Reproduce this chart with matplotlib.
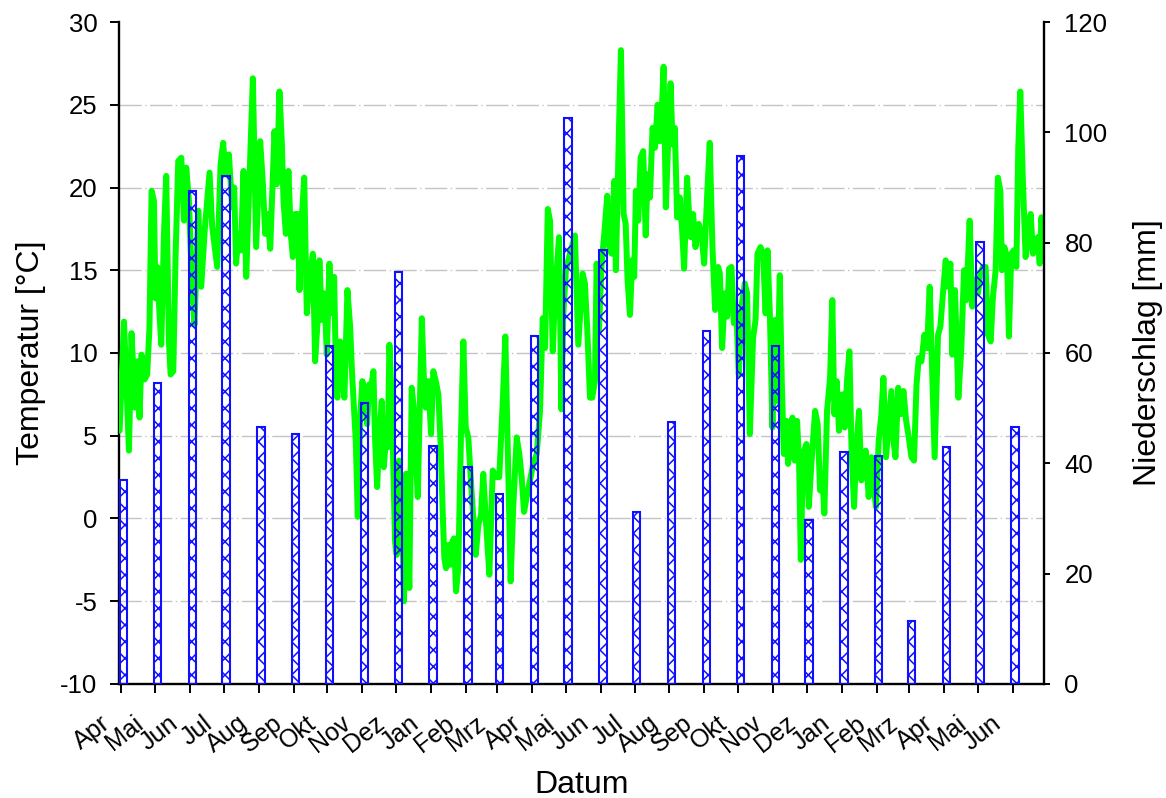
import numpy as np
import pandas as pd
import matplotlib
matplotlib.use("Agg")
import matplotlib.pyplot as plt
import matplotlib.transforms as mtransforms

plt.rcParams['font.family'] = ['Liberation Sans', 'DejaVu Sans']
plt.rcParams['axes.unicode_minus'] = False

# ---- data ----
start_date = "2010-04-01"
month_labels = ["Apr", "Mai", "Jun", "Jul", "Aug", "Sep", "Okt", "Nov", "Dez",
                "Jan", "Feb", "Mrz", "Apr", "Mai", "Jun", "Jul", "Aug", "Sep",
                "Okt", "Nov", "Dez", "Jan", "Feb", "Mrz", "Apr", "Mai", "Jun"]

# monthly precipitation [mm]
precip = [37, 54.6, 89.4, 92, 46.5, 45.3, 61.2, 51, 74.7, 43.2, 39.3, 34.5,
          63, 102.6, 78.6, 31.2, 47.4, 63.9, 95.7, 61.2, 29.7, 42, 41.4, 11.4,
          42.9, 80.1, 46.5]

# temperature series: days since start, temperature [°C]
temp_days = [
    -1.5, 2.4, 6.8, 9.1, 12.2, 14.2, 16.2, 18, 20.7, 23, 25, 26.9, 29, 30.4, 32, 33.5,
    35.5, 37.9, 39.9, 42.3, 43.8, 46.2, 48.2, 50.6, 53.3, 55.7, 57.7, 60.1, 63, 65,
    68.4, 71, 74.3, 78.4, 80.8, 85.2, 88.2, 90.5, 92.6, 95.6, 98.5, 100.3, 102, 104.1,
    106.3, 108.6, 111, 113.9, 116.9, 119.8, 123.4, 125.8, 127.8, 129.9, 132.3, 136.1,
    138.2, 140.5, 142.7, 144.1, 146.2, 148.5, 150.6, 152.4, 154.5, 156.9, 158.3, 160.4,
    162.5, 164.8, 167.8, 170.2, 172.2, 174.3, 176, 178.2, 180.5, 182.6, 184.9, 187,
    189.1, 190.9, 192, 194.4, 196.4, 198.2, 200.9, 203.3, 205, 208.3, 210.1, 212.2,
    214.2, 216.6, 218.4, 220.2, 221.9, 224, 225.5, 227.3, 229.3, 231.4, 233.2, 235,
    236.7, 238.2, 240.3, 241.7, 243.2, 244.7, 246.8, 249.2, 251.2, 253, 254.5, 255.9,
    258, 260.1, 261.6, 263.4, 264.8, 267, 268.7, 270.5, 272.8, 275.2, 277.2, 279.4,
    281.7, 283.8, 285.6, 287, 288.5, 290.6, 292.3, 294.1, 295.6, 297.4, 299.4, 301.8,
    303.9, 306, 308.3, 311.3, 314.9, 317.2, 319.6, 321.6, 324, 327, 330, 332.9, 335.8,
    338.8, 341.2, 343.8, 345.9, 348.3, 351.3, 353.6, 355.7, 357.8, 360.2, 363.1, 366,
    369.1, 372, 374.4, 376.5, 378.9, 380.9, 383.3, 385.4, 388.9, 391, 392.7, 395, 398.6,
    403, 406, 409.9, 411.9, 414, 416.4, 418.4, 420.8, 422.3, 424.4, 426.7, 429.1, 431.7,
    433.5, 435.6, 438, 439.4, 442.1, 443.9, 446.3, 448.1, 449.8, 451.9, 453.9, 455.7,
    457.2, 459.3, 461.4, 463.7, 465.9, 467.6, 469.7, 472, 474.1, 476.5, 478.5, 480,
    481.8, 483.8, 485.9, 488, 489.8, 491.8, 493.8, 496.2, 498.3, 500, 502.7, 504.4, 506,
    508, 510.1, 513.1, 515.5, 517.8, 520.4, 522.8, 525.2, 527.6, 530.2, 531.8, 533.8,
    536.2, 538.3, 540, 542.1, 544.2, 546.5, 548.6, 551, 553.9, 556, 558.4, 561.3, 563.5,
    565.2, 567.9, 570.2, 572.4, 574.1, 576.2, 578.5, 580.9, 582.6, 585, 586.8, 588.6,
    590.9, 592.4, 594.5, 596.3, 598.3, 600.4, 602.2, 603.7, 605.7, 608.7, 610.8, 613.1,
    616.4, 618.7, 620.8, 622.8, 624.6, 627, 629.7, 631.7, 633.5, 635.6, 637.6, 639.4,
    640.6, 642.7, 644.7, 646.9, 648.7, 651, 653.1, 655.4, 657.5, 659.6, 661.4, 664,
    666.4, 668.5, 670.5, 672.9, 675.3, 677.1, 679.4, 681.8, 684.2, 686, 687.8, 690.2,
    692.5, 694.9, 697.3, 699.6, 702, 704.3, 706.5, 708.5, 710.9, 713.5, 715.9, 718.2,
    720.6, 722.6, 725.6, 727.7, 730, 732.4, 734.4, 736.6, 738.3, 740.7, 743.7, 746.3,
    748.7, 750.8, 753.7, 756.1, 758.4, 761.1, 763.2, 765.5, 767.9, 770, 772.4, 774.4,
    776.8, 778.8, 781, 782.4, 784.5, 786.9, 788.6, 790.7, 792.8, 795.2, 796.9, 798.7,
    801, 803.4, 805.5, 807.9, 810, 812.4, 814.4, 815.9, 817.5, 819.5]

temp_vals = [
    5.3, 11.9, 4.1, 11.2, 6.7, 9.5, 6.1, 9.9, 8.4, 8.7, 11.5, 19.8, 19.2, 13.3, 15.2, 12.9,
    10.5, 17.2, 20.7, 10.7, 8.7, 8.9, 15.8, 21.6, 21.8, 18, 21.2, 19.2, 13.8, 11.7,
    18.6, 14, 17.6, 20.9, 17.6, 15.2, 21.4, 22.7, 20.8, 22, 18.8, 20, 15.4, 17.2,
    16.2, 21, 14.6, 20.6, 26.6, 16.4, 22.8, 20.2, 17.2, 18.4, 16.3, 23.4,
    20.2, 25.8, 22.6, 19.2, 17.2, 21, 17.2, 15.8, 18.4, 18.4, 13.8, 18.2,
    20.6, 12.4, 14.8, 16, 9.5, 11.8, 15.6, 12, 13.6, 9.9, 15.4, 12.4,
    14.6, 7.9, 7.3, 10.7, 8.5, 7.3, 13.8, 11.6, 8.8, 4.7, 0.1, 6.1,
    8.3, 7.5, 5.7, 8.1, 7.9, 8.9, 4.7, 1.9, 5.1, 7.1, 3.1, 4.7,
    4.3, 10.5, 7.1, 3.1, -1.4, -2.2, 3.5, 1.1, -5, 2.7, -0.9, -4.2,
    7.9, 6.5, 3.9, 1.3, 5.5, 12.1, 8.7, 6.7, 8.3, 5.1, 8.9, 8.3,
    7.5, 4.3, 0.3, -2.4, -3, -1.6, -2.8, -1.4, -1.2, -4.4, -3, 5.1,
    10.7, 5.5, 4.9, 1.5, -2.2, -0.4, 0.2, 2.7, -0.2, -3.4, 2.9, 2.5, 2.5,
    6.9, 11, 2.9, -3.8, 0.8, 4.9, 3.9, 2.5, 0.4, 1.3, 2.3, 3.3,
    3.9, 6.5, 12.1, 10.3, 18.7, 18, 10.1, 13.6, 17, 6.6, 12.3, 15, 16,
    17.1, 10.5, 14.8, 14.2, 11.4, 7.3, 7.3, 8.3, 15.4, 11.4, 15.4, 17.2, 19.5,
    16.4, 16, 20.4, 15, 23.4, 28.3, 18.4, 17.8, 14.4, 12.3, 15.6, 14.6,
    19.8, 18, 21.8, 22.2, 17.1, 20.8, 19.4, 23.6, 22.4, 25, 22.8, 24.3,
    27.3, 18.8, 22.8, 26.3, 22.6, 23.6, 18.2, 19.4, 17.4, 15.1, 20.6, 18.4, 17,
    18.4, 16.4, 17.8, 17.2, 15.4, 19.4, 22.7, 16.4, 12.6, 15.2, 14.8, 10.3,
    13.6, 12.2, 15.1, 15.2, 11.8, 12.4, 8.7, 12.8, 14.2, 13.6, 5.1, 10.9, 12,
    16, 16.4, 16, 12.4, 16.2, 12.4, 5.5, 12, 7.1, 14.7, 8.3, 3.9,
    5.9, 3.3, 5.1, 6.1, 3.5, 5.9, 3.3, -2.5, 3.9, 4.5, 0.7, 3.3,
    6.5, 5.7, 1.7, 2.7, 0.3, 6.5, 8.5, 13.2, 6.3, 8.3, 5.3, 6.5,
    7.5, 5.5, 8.3, 10.1, 4.3, 0.7, 4.3, 6.5, 2.3, 3.7, 4.1, 1.3,
    3.7, 1.9, 0.7, 4.7, 6.3, 8.5, 3.7, 5.7, 7.7, 4.7, 3.7, 7.9,
    6.3, 7.7, 5.9, 4.9, 3.7, 3.5, 8.1, 9.7, 9.5, 11.1, 10.3, 14,
    8.3, 3.7, 11.1, 11.6, 13.6, 15.6, 14, 15.4, 9.9, 13.8, 7.3, 10.3,
    15, 13.2, 18, 12.8, 14.4, 13.6, 14.8, 15.2, 15.2, 11.1, 10.7, 13.4,
    15, 20.6, 19.8, 15, 16.4, 15.8, 11, 16, 16.2, 15.2, 22.4, 25.8,
    20.4, 15.8, 16.8, 18.4, 16, 16.8, 17, 15.4, 18.2, 15.8]

# ---- figure ----
fig = plt.figure(figsize=(11.66, 7.98), dpi=100)
ax = fig.add_axes([0.1021, 0.1429, 0.7935, 0.8295])
ax2 = ax.twinx()

month_starts = pd.date_range(start_date, periods=len(month_labels), freq="MS")
tick_days = np.asarray((month_starts - pd.Timestamp(start_date)).days, dtype=float)

ax.plot(temp_days, temp_vals, color="#00ff00", lw=4.3, solid_joinstyle="round",
        solid_capstyle="round", zorder=3)

plt.rcParams['hatch.color'] = '#0000ff'
plt.rcParams['hatch.linewidth'] = 1.1
ax2.bar(tick_days + 2.0, precip, width=6.5, facecolor="none", edgecolor="#1010ff",
        hatch="xx", linewidth=1.5, zorder=3)

ax.set_ylim(-10, 30)
ax.set_yticks(np.arange(-10, 31, 5))
ax2.set_ylim(0, 120)
ax2.set_yticks(np.arange(0, 121, 20))
ax.set_xlim(-2, 820)
ax.set_xticks(tick_days)
ax.set_xticklabels(month_labels, rotation=38, ha="right", va="top",
                   fontsize=18)

for y in np.arange(-5, 30, 5):
    ax.axhline(y, color="#c4c4c4", lw=1.0, ls=(0, (16, 2.5, 1, 2.5)), zorder=1)

for a in (ax, ax2):
    a.spines["top"].set_visible(False)
    for s in ("left", "right", "bottom"):
        a.spines[s].set_linewidth(1.7)
    a.tick_params(axis="both", which="major", direction="out", length=6.5,
                  width=1.4, labelsize=18.5, pad=9)
ax.tick_params(axis="x", pad=3, labelsize=18)
ax2.tick_params(axis="y", length=4.5, pad=10)
ax2.spines["left"].set_visible(False)
ax2.spines["bottom"].set_visible(False)
ax.spines["right"].set_visible(False)

shift = mtransforms.ScaledTranslation(-7 / 100, -14 / 100, fig.dpi_scale_trans)
for lab in ax.get_xticklabels():
    lab.set_transform(lab.get_transform() + shift)

ax.set_ylabel("Temperatur [°C]", fontsize=23, labelpad=10)
ax2.set_ylabel("Niederschlag [mm]", fontsize=23, labelpad=18)
ax.set_xlabel("Datum", fontsize=23, labelpad=9)

fig.savefig("out.png", dpi=100)
